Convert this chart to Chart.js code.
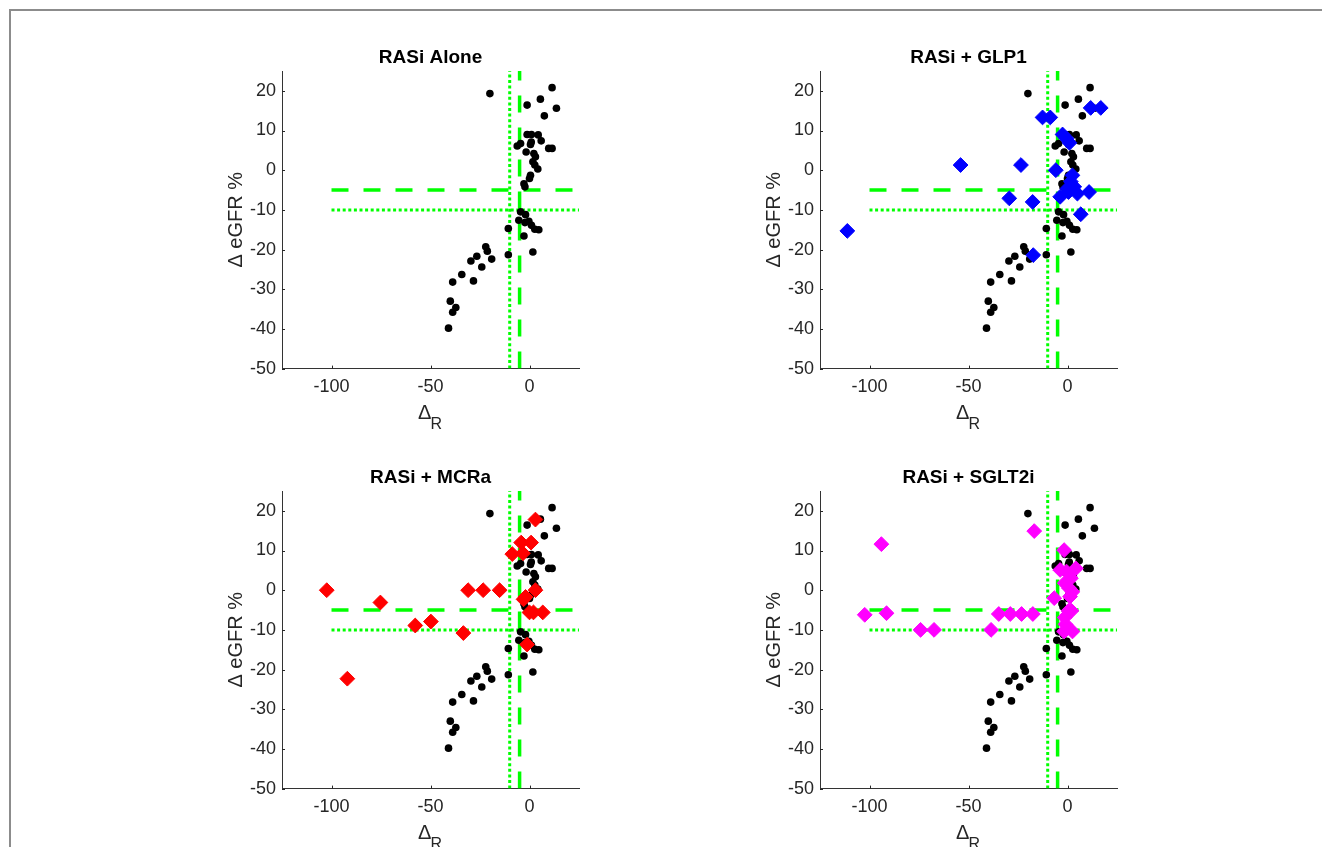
<!DOCTYPE html>
<html>
<head>
<meta charset="utf-8">
<script src="https://cdn.jsdelivr.net/npm/chart.js@4.4.1/dist/chart.umd.min.js"></script>
<style>
  body { margin: 0; background: #fff; }
  #frame { position: absolute; left: 9px; top: 9px; width: 1313px; height: 838px;
           border-top: 2px solid #8c8c8c; border-left: 2px solid #8c8c8c; }
  canvas { position: absolute; }
</style>
</head>
<body>
<div id="frame"></div>
<canvas id="c1" width="400" height="410" style="left:200px;top:29px"></canvas>
<canvas id="c2" width="400" height="410" style="left:738px;top:29px"></canvas>
<canvas id="c3" width="400" height="410" style="left:200px;top:449px"></canvas>
<canvas id="c4" width="400" height="410" style="left:738px;top:449px"></canvas>
<script>
// baseline cohort (RASi alone), shown in black on every panel
const baseX = [-20, 11.4, 5.5, -1.2, 13.6, 7.5, -1.2, 1.0, 4.4, 5.9, 0.9, -4.5, -6.2, 0.5, 9.7, 11.4,
  -1.7, 2.2, 3.0, 1.7, 2.7, 4.2, 0.5, 0, -2.8, -2.3, -4.5, -2.0, -5.4, -2.3, -0.3, 1.0, 2.7, 4.7,
  -2.8, -10.7, 1.7, -10.7, -22.1, -21.3, -19.1, -26.6, -29.6, -24.1, -34.2, -28.3, -38.8, -40.0,
  -37.2, -38.8, -40.9];
const baseY = [19.3, 20.8, 17.9, 16.4, 15.6, 13.7, 9.0, 9.0, 8.9, 7.4, 7.1, 6.7, 6.1, 6.5, 5.5, 5.5,
  4.6, 4.2, 3.4, 2.1, 1.3, 0.3, -1.3, -2.1, -3.4, -4.2, -10.5, -11.2, -12.6, -13.2, -12.9, -13.9, -14.9, -15.0,
  -16.6, -14.7, -20.6, -21.3, -19.3, -20.4, -22.4, -21.7, -22.9, -24.4, -26.3, -27.9, -28.2, -33.0,
  -34.6, -35.8, -39.8];

const glp1X = [-111.2, -54, -23.5, -29.4, -17.6, -12.6, -8.7, -5.9, -2.5, -0.5, 1.0, 2.5, 1.7, 0, 3.4,
  5.0, -3.7, 0.5, 10.9, 6.7, -17.3, 11.7, 16.8];
const glp1Y = [-15.3, 1.3, 1.3, -7.1, -8.0, 13.3, 13.3, 0, 9.0, 8.0, 6.9, -1.3, -2.9, -4.6, -4.2,
  -5.9, -6.7, -5.5, -5.5, -11.1, -21.4, 15.7, 15.7];

const mcraX = [-102.4, -75.3, -57.7, -49.8, -33.4, -31, -23.4, -15.1, -92, 3.0, -4.2, 0.8, -8.7, -3.3,
  -3.0, -2.0, 3.0, 0, 2, 6.7, -1.2];
const mcraY = [0, -3.1, -8.9, -7.9, -10.8, 0, 0, 0, -22.3, 17.8, 12.0, 12.0, 9.1, 9.3,
  -2.3, -1.7, 0, -5.6, -5.6, -5.6, -13.7];

const sglt2X = [-102.4, -91.4, -94, -74.2, -67.4, -38.6, -34.7, -28.9, -23.2, -17.5, -16.8, -6.7, -1.7,
  -3.7, 4.2, -0.5, 1.7, -1.4, 0.8, 2.5, 1.3, 0.5, 2.0, -1.4, -1.0, -1.7, 2.5];
const sglt2Y = [-6.2, -5.8, 11.6, -10, -10, -10, -6, -6, -6, -6, 14.9, -2.0, 10.1,
  5.1, 5.5, 4.7, 3.0, 1.8, 0.5, -0.4, -1.6, -5.2, -5.2, -6.9, -8.6, -10.4, -10.4];

const panelTitles = ['RASi Alone', 'RASi + GLP1', 'RASi + MCRa', 'RASi + SGLT2i'];
const xTicks = [-100, -50, 0];
const yTicks = [-50, -40, -30, -20, -10, 0, 10, 20];
const xMin = -125, xMax = 25, yMin = -50, yMax = 25;
const dashedLevel = -5, dottedLevel = -10, lineStart = -100;

Chart.defaults.font.family = '"Liberation Sans", Arial, Helvetica, sans-serif';
Chart.defaults.color = '#262626';

const pts = (xs, ys) => xs.map((x, i) => ({ x: x, y: ys[i] }));

const axisMarks = {
  id: 'axisMarks',
  afterDraw(chart) {
    const { ctx, chartArea, scales: { x, y } } = chart;
    ctx.save();
    ctx.strokeStyle = '#262626';
    ctx.lineWidth = 1;
    ctx.beginPath();
    xTicks.forEach(v => {
      const px = Math.round(x.getPixelForValue(v)) + 0.5;
      ctx.moveTo(px, chartArea.bottom);
      ctx.lineTo(px, chartArea.bottom - 3);
    });
    yTicks.forEach(v => {
      const py = Math.round(y.getPixelForValue(v)) + 0.5;
      ctx.moveTo(chartArea.left, py);
      ctx.lineTo(chartArea.left + 3, py);
    });
    ctx.stroke();

    // x label: Delta with subscript R
    const cx = (chartArea.left + chartArea.right) / 2;
    ctx.fillStyle = '#262626';
    ctx.textBaseline = 'alphabetic';
    ctx.textAlign = 'left';
    ctx.font = '20px "Liberation Sans", Arial, sans-serif';
    const wd = ctx.measureText('Δ').width;
    ctx.font = '16px "Liberation Sans", Arial, sans-serif';
    const wr = ctx.measureText('R').width;
    const x0 = cx - (wd + wr) / 2;
    ctx.font = '20px "Liberation Sans", Arial, sans-serif';
    ctx.fillText('Δ', x0, chartArea.bottom + 50);
    ctx.font = '16px "Liberation Sans", Arial, sans-serif';
    ctx.fillText('R', x0 + wd - 1, chartArea.bottom + 60);
    ctx.restore();
  }
};

function makePanel(id, title, xs, ys, color) {
  const datasets = [
    { type: 'line', data: [{ x: lineStart, y: dashedLevel }, { x: xMax, y: dashedLevel }],
      borderColor: '#00ff00', borderWidth: 3.5, borderDash: [17, 15], pointRadius: 0, order: 3 },
    { type: 'line', data: [{ x: lineStart, y: dottedLevel }, { x: xMax, y: dottedLevel }],
      borderColor: '#00ff00', borderWidth: 3, borderDash: [3, 2.6], pointRadius: 0, order: 3 },
    { type: 'line', data: [{ x: dashedLevel, y: yMin }, { x: dashedLevel, y: yMax }],
      borderColor: '#00ff00', borderWidth: 3.5, borderDash: [17, 15], pointRadius: 0, order: 3 },
    { type: 'line', data: [{ x: dottedLevel, y: yMin }, { x: dottedLevel, y: yMax }],
      borderColor: '#00ff00', borderWidth: 3, borderDash: [3, 2.6], pointRadius: 0, order: 3 },
    { data: pts(baseX, baseY), pointStyle: 'circle', pointRadius: 3.8,
      backgroundColor: '#000', borderColor: '#000', borderWidth: 0, order: 1 }
  ];
  if (xs) {
    datasets.push({ data: pts(xs, ys), pointStyle: 'rectRot', pointRadius: 7.4,
      backgroundColor: color, borderColor: color, borderWidth: 1, order: 0 });
  }
  new Chart(document.getElementById(id), {
    type: 'scatter',
    data: { datasets: datasets },
    plugins: [axisMarks],
    options: {
      responsive: false,
      animation: false,
      events: [],
      layout: { padding: { left: 20, right: 21, top: 17.6, bottom: 40.4 } },
      plugins: {
        legend: { display: false },
        tooltip: { enabled: false },
        title: { display: true, text: title, fullSize: false, color: '#000',
          font: { size: 19, weight: 'bold' }, padding: { top: 0, bottom: 1.6 } }
      },
      scales: {
        x: {
          type: 'linear', min: xMin, max: xMax,
          afterBuildTicks: s => { s.ticks = xTicks.map(v => ({ value: v })); },
          afterFit: s => { s.height = 30; },
          grid: { display: false, drawTicks: false },
          border: { display: true, color: '#333', width: 1 },
          ticks: { font: { size: 18 }, color: '#262626', padding: 8 }
        },
        y: {
          type: 'linear', min: yMin, max: yMax,
          afterBuildTicks: s => { s.ticks = yTicks.map(v => ({ value: v })); },
          afterFit: s => { s.width = 62; },
          grid: { display: false, drawTicks: false },
          border: { display: true, color: '#333', width: 1 },
          ticks: { font: { size: 18 }, color: '#262626', padding: 6 },
          title: { display: true, text: 'Δ eGFR %', font: { size: 20 }, color: '#262626',
            padding: { top: 4, bottom: 0 } }
        }
      }
    }
  });
}

makePanel('c1', panelTitles[0], null, null, null);
makePanel('c2', panelTitles[1], glp1X, glp1Y, '#0000ff');
makePanel('c3', panelTitles[2], mcraX, mcraY, '#ff0000');
makePanel('c4', panelTitles[3], sglt2X, sglt2Y, '#ff00ff');
</script>
</body>
</html>
